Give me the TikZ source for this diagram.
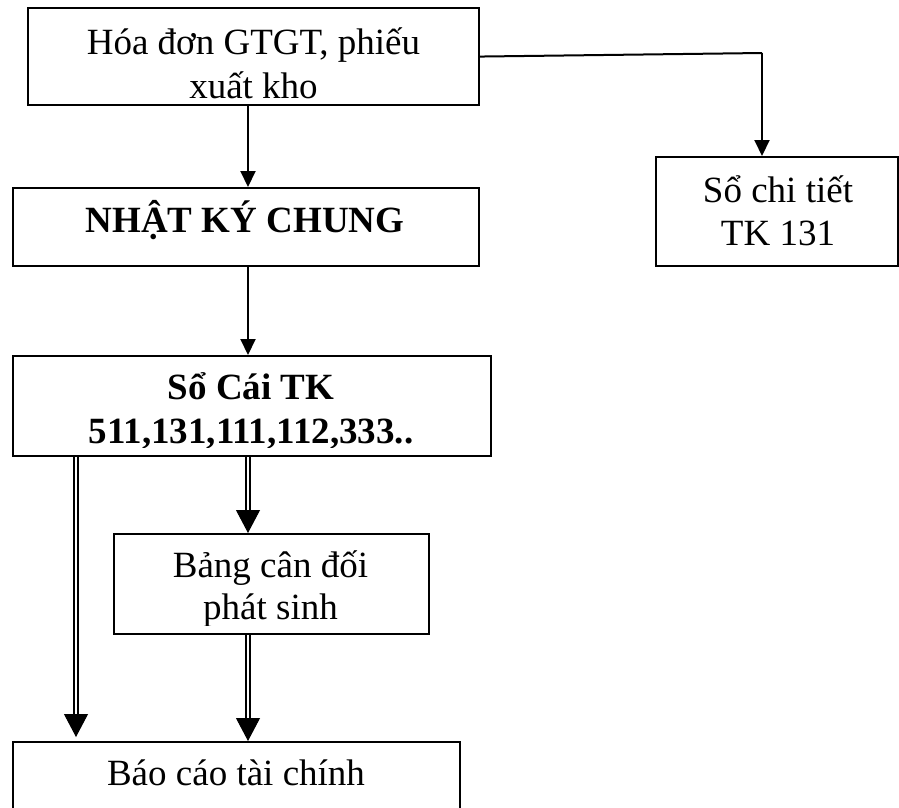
\documentclass[tikz,border=0pt]{standalone}
\usepackage{fontspec}
\setmainfont{Liberation Serif}
\usetikzlibrary{arrows.meta}

\tikzset{
  box/.style={draw, line width=2.1pt, rectangle, inner sep=0pt, anchor=north west},
  txt/.style={inner sep=0pt, anchor=base, font=\fontsize{37}{43}\selectfont},
  btxt/.style={txt, font=\fontsize{37}{43}\selectfont\bfseries},
  arr/.style={line width=2pt, -{Triangle[length=16pt,width=15pt]}},
  dblline/.style={line width=1.9pt, double, double distance=2.8pt, shorten >=21pt},
  dbltip/.style={line width=1pt, -{Triangle[length=23pt,width=24pt]}}
}

\begin{document}
\begin{tikzpicture}[x=1pt, y=-1pt]
  \useasboundingbox (0,0) rectangle (899,807);
  \clip (0,0) rectangle (899,807);

  % boxes
  \node[box, minimum width=451pt, minimum height=97pt]  (hoadon) at (27,7) {};
  \node[box, minimum width=242pt, minimum height=109pt] (chitiet) at (655,156) {};
  \node[box, minimum width=466pt, minimum height=78pt]  (nkc) at (12,187) {};
  \node[box, minimum width=478pt, minimum height=100pt] (socai) at (12,355) {};
  \node[box, minimum width=315pt, minimum height=100pt] (bangcd) at (113,533) {};
  \node[box, minimum width=447pt, minimum height=100pt] (baocao) at (12,741) {};

  % box texts (overflowing lines are cut at the inner margin)
  \begin{scope}
    \clip ([shift={(1pt,-1pt)}]hoadon.north west) rectangle ([yshift=8pt]hoadon.south east);
    \node[txt] (hoadonA) at (253.5,54) {Hóa đơn GTGT, phiếu};
    \node[txt] (hoadonB) at (253.5,98) {xuất kho};
  \end{scope}

  \node[txt] (chitietA) at (778,202) {Sổ chi tiết};
  \node[txt] (chitietB) at (778,245) {TK 131};

  \node[btxt] (nkcT) at (245,232) {NHẬT KÝ CHUNG};

  \begin{scope}
    \clip ([shift={(1pt,-1pt)}]socai.north west) rectangle ([yshift=10pt]socai.south east);
    \node[btxt] (socaiA) at (251,399) {Sổ Cái TK};
    \node[btxt] (socaiB) at (251,443) {511,131,111,112,333..};
  \end{scope}

  \begin{scope}
    \clip ([shift={(1pt,-1pt)}]bangcd.north west) rectangle ([yshift=10pt]bangcd.south east);
    \node[txt] (bangcdA) at (270.5,577) {Bảng cân đối};
    \node[txt] (bangcdB) at (270.5,619) {phát sinh};
  \end{scope}

  \node[txt] (baocaoT) at (236,785) {Báo cáo tài chính};

  % columns of the vertical connectors
  \coordinate (colL) at (76,0);
  \coordinate (colM) at (248,0);
  \coordinate (turn) at (762,53);

  % single-line connectors
  \draw[arr] (hoadon.south -| colM) -- (nkc.north -| colM);
  \draw[arr] (nkc.south -| colM) -- (socai.north -| colM);
  \draw[line width=2pt] (hoadon.east) -- (turn);
  \draw[arr] (turn) -- (chitiet.north -| turn);

  % double-line connectors
  \draw[dblline] (socai.south -| colL) -- ([yshift=4pt]baocao.north -| colL);
  \draw[dbltip] ([yshift=25pt]baocao.north -| colL) -- ([yshift=4pt]baocao.north -| colL);

  \draw[dblline] (socai.south -| colM) -- (bangcd.north -| colM);
  \draw[dbltip] ([yshift=21pt]bangcd.north -| colM) -- (bangcd.north -| colM);

  \draw[dblline] (bangcd.south -| colM) -- (baocao.north -| colM);
  \draw[dbltip] ([yshift=21pt]baocao.north -| colM) -- (baocao.north -| colM);
\end{tikzpicture}
\end{document}
